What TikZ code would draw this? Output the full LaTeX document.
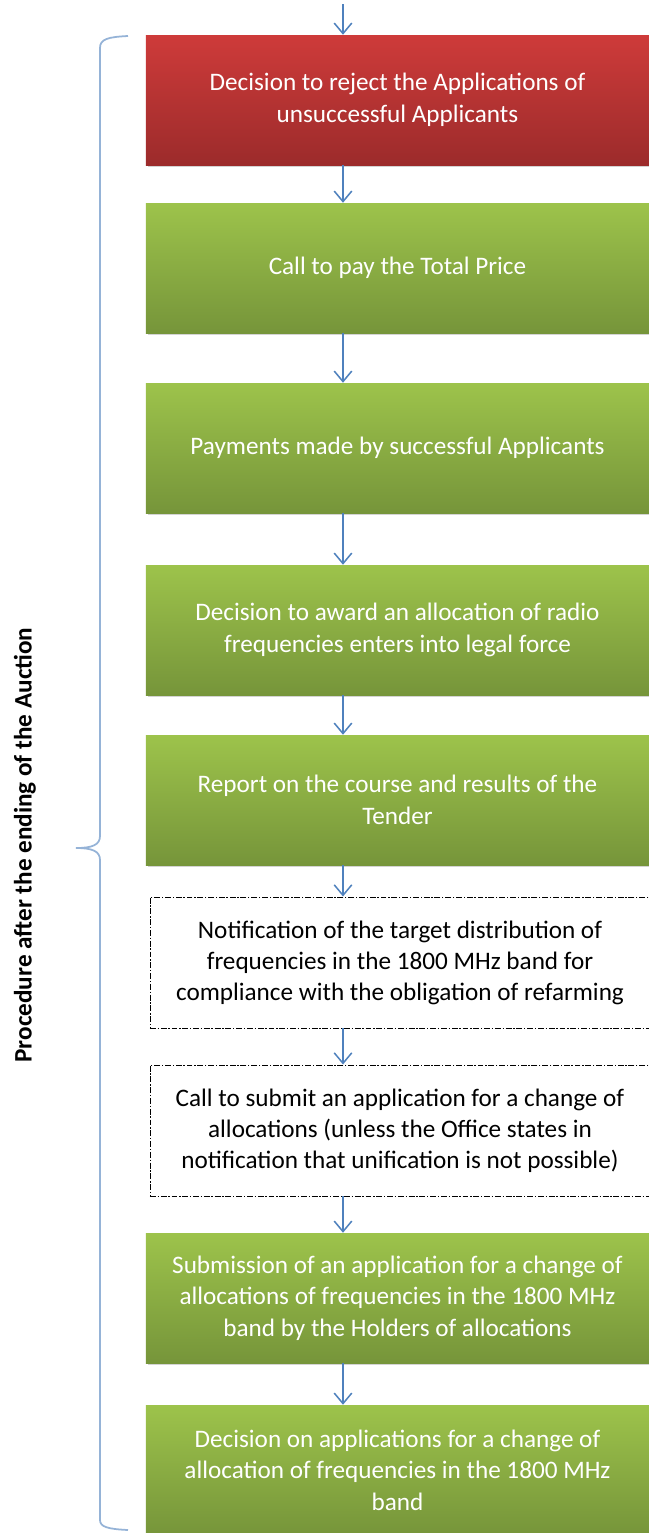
\documentclass[tikz,border=0pt]{standalone}
\usepackage{fontspec}
\setmainfont{Carlito}
\usepackage{tikz}
\usetikzlibrary{positioning}
\usetikzlibrary{arrows.meta}
\usetikzlibrary{shadows}

\definecolor{redtop}{HTML}{CE3B3A}
\definecolor{redbot}{HTML}{9C2B2B}
\definecolor{greentop}{HTML}{9DC34B}
\definecolor{greenbot}{HTML}{76953A}
\definecolor{arrowblue}{HTML}{4F81BD}
\definecolor{braceblue}{HTML}{95B3D7}

\tikzset{
  stagebox/.style={minimum width=15.1cm, minimum height=3.9cm,
    align=center, inner sep=0pt, font=\fontsize{21.5}{27}\selectfont, text=white,
    drop shadow={opacity=0.35, shadow xshift=2pt, shadow yshift=-2pt}},
  redbox/.style={stagebox, top color=redtop, bottom color=redbot},
  greenbox/.style={stagebox, top color=greentop, bottom color=greenbot},
  dashbox/.style={minimum width=15cm, minimum height=3.93cm,
    align=center, inner sep=0pt, font=\fontsize{21.5}{26.5}\selectfont,
    draw=black, line width=0.8pt, dash pattern=on 5pt off 1.5pt on 1.2pt off 1.5pt},
  flow/.style={draw=arrowblue, line width=1.3pt, -{Straight Barb[length=9pt, width=15pt, line width=1.3pt]}}
}

\begin{document}
\begin{tikzpicture}[x=0.03cm, y=-0.03cm]
\useasboundingbox (0,0) rectangle (649,1533);
\clip (0,0) rectangle (649,1533);

% Draw the boxes
\node[redbox] (reject) at (397.5,100) {Decision to reject the Applications of\\unsuccessful Applicants};
\node[greenbox] (pay) at (397.5,268) {Call to pay the Total Price};
\node[greenbox] (paid) at (397.5,448) {Payments made by successful Applicants};
\node[greenbox] (award) at (397.5,630) {Decision to award an allocation of radio\\frequencies enters into legal force};
\node[greenbox] (report) at (397.5,800) {Report on the course and results of the\\Tender};
\node[dashbox] (notif) at (400,962.5) {Notification of the target distribution of\\frequencies in the 1800 MHz band for\\compliance with the obligation of refarming};
\node[dashbox] (callsub) at (400,1130.5) {Call to submit an application for a change of\\allocations (unless the Office states in\\notification that unification is not possible)};
\node[greenbox] (submit) at (397.5,1298) {Submission of an application for a change of\\allocations of frequencies in the 1800 MHz\\band by the Holders of allocations};
\node[greenbox] (decide) at (397.5,1470) {Decision on applications for a change of\\allocation of frequencies in the 1800 MHz\\band};

% Draw the arrows
\coordinate (axis) at (343,4);
\draw[flow] (axis) -- (reject.north -| axis);
\foreach \a/\b in {reject/pay, pay/paid, paid/award, award/report, report/notif, notif/callsub, callsub/submit, submit/decide}
{
  \draw[flow] (\a.south -| axis) -- (\b.north -| axis);
}

% Draw the brace
\draw[braceblue, line width=1.5pt] (128,36) .. controls (108,37) and (100,39) .. (100,48) -- (100,836)
  .. controls (100,845) and (92,848) .. (76,848) .. controls (92,848) and (100,851) .. (100,860)
  -- (100,1520) .. controls (100,1527) and (108,1529) .. (128,1530);

\node[rotate=90, font=\fontsize{21.5}{24}\selectfont\bfseries] (label) at (25,845) {Procedure after the ending of the Auction};

\end{tikzpicture}
\end{document}
